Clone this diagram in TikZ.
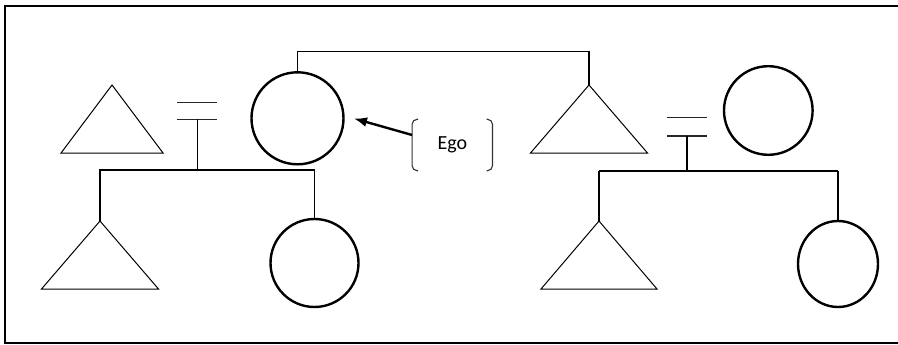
\documentclass[tikz,border=0pt]{standalone}
\usepackage{fontspec}
\setmainfont{Carlito}
\usetikzlibrary{shapes.geometric,arrows.meta}
\begin{document}
\begin{tikzpicture}[x=1pt,y=-1pt,
  male/.style={draw, isosceles triangle, isosceles triangle stretches,
    shape border rotate=90, inner sep=0pt, outer sep=0pt,
    line width=1pt, minimum height=68pt},
  female/.style={draw, circle, inner sep=0pt, outer sep=0pt, line width=2.4pt},
  link/.style={line width=1.3pt},
  marriage/.style={line width=1pt, black!85},
  bracket/.style={line width=1.1pt, black!80, rounded corners=5pt},
  pointer/.style={line width=2.4pt, -{Latex[length=13pt,width=10pt]}}
]
\clip (0,0) rectangle (898,345);
\fill[white] (0,0) rectangle (898,345);
% frame (right side runs off the page)
\draw[line width=2.3pt] (5,6) rectangle (910,343);

% first generation
\node[male, minimum width=102pt, anchor=apex] (t1) at (112,85) {};
\node[female, minimum size=92pt] (ego) at (297.5,118.3) {};
\node[male, minimum width=117pt, anchor=apex] (t2) at (589,85) {};
\node[female, minimum size=88.6pt] (c2) at (768.3,110.5) {};

% second generation
\node[male, minimum width=117pt, anchor=apex] (t3) at (100,221) {};
\node[female, minimum size=88pt] (c3) at (314.5,263) {};
\node[male, minimum width=116pt, anchor=apex] (t4) at (599,221) {};
\node[female, ellipse, minimum width=80pt, minimum height=86pt] (c4) at (838,264) {};

% sibling link between ego and t2
\draw[link] (ego.north) -- ++(0,-21) -| (t2.apex);

% left couple
\coordinate (m1) at (197.7,119.3);
\coordinate (s1) at (197.7,170);
\draw[marriage] (177,102.3) -- (217,102.3);
\draw[marriage] (177,119.3) -- (217,119.3);
\draw[link] (m1) -- (s1);
\draw[link] (t3.apex) |- (s1) -| (c3.north);

% right couple
\coordinate (m2) at (687,136);
\coordinate (s2) at (687,171);
\draw[marriage] (667,118) -- (707,118);
\draw[marriage] (667,136) -- (707,136);
\draw[link] (m2) -- (s2);
\draw[line width=2.3pt] (t4.apex |- s2) -- (c4.north |- s2);
\draw[link] (t4.apex) -- (t4.apex |- s2);
\draw[link] (c4.north) -- (c4.north |- s2);

% Ego label
\node[minimum width=80pt, minimum height=51pt, inner sep=0pt] (egobox) at (452.3,145) {};
\node[font=\fontsize{20}{24}\selectfont, anchor=base, inner sep=0pt] (egotext) at (452.3,149.3) {Ego};
\draw[bracket] ([xshift=6pt]egobox.north west) -- (egobox.north west)
  -- (egobox.south west) -- ([xshift=6pt]egobox.south west);
\draw[bracket] ([xshift=-6pt]egobox.north east) -- (egobox.north east)
  -- (egobox.south east) -- ([xshift=-6pt]egobox.south east);
\coordinate (egotip) at (354,118.5);
\draw[pointer] ([yshift=10pt]egobox.west) -- (egotip);
\end{tikzpicture}
\end{document}
